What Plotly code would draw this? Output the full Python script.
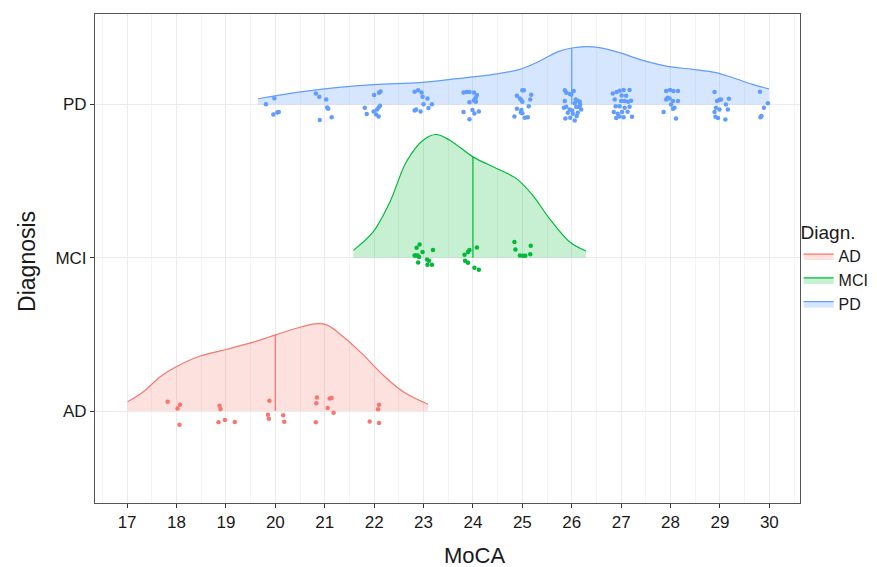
import numpy as np
import plotly.graph_objects as go

# ---------------- data ----------------
groups = ["AD", "MCI", "PD"]
group_pos = [1, 2, 3]
medians = [20, 24, 26]
line_colors = ["#F8766D", "#00BA38", "#619CFF"]
fill_colors = ["rgba(248,118,109,0.22)", "rgba(0,186,56,0.22)", "rgba(97,156,255,0.25)"]

# density ridge outlines (x, scaled height)
ad_dens_x = [17.01, 17.33, 17.67, 18.00, 18.48, 19.02, 19.55, 20.01, 20.43, 20.80, 21.04, 21.37, 21.78, 22.18, 22.59, 23.09]
ad_dens_h = [0.061, 0.126, 0.224, 0.290, 0.359, 0.403, 0.449, 0.497, 0.540, 0.569, 0.562, 0.486, 0.366, 0.235, 0.126, 0.044]
mci_dens_x = [21.58, 21.98, 22.32, 22.65, 22.99, 23.25, 23.53, 24.00, 24.48, 24.88, 25.21, 25.55, 25.96, 26.29]
mci_dens_h = [0.048, 0.168, 0.364, 0.625, 0.767, 0.804, 0.767, 0.658, 0.582, 0.516, 0.407, 0.255, 0.103, 0.044]
pd_dens_x = [19.65, 20.63, 21.98, 22.92, 23.67, 24.41, 24.95, 25.35, 25.75, 26.00, 26.29, 26.56, 26.97, 27.37, 27.91, 28.45, 28.92, 29.26, 29.66, 29.99]
pd_dens_h = [0.037, 0.087, 0.129, 0.142, 0.168, 0.196, 0.229, 0.283, 0.348, 0.368, 0.377, 0.371, 0.338, 0.294, 0.250, 0.229, 0.207, 0.174, 0.131, 0.102]

# jittered observations (MoCA, vertical offset from ridge baseline)
ad_pts_x = [17.82, 18.07, 18.02, 18.06, 18.87, 18.89, 18.85, 18.98, 19.18, 19.88, 19.85, 19.87, 20.16, 20.18,
            20.84, 20.83, 20.82, 21.06, 21.10, 21.14, 21.18, 21.91, 22.10, 22.08, 22.10]
ad_pts_dy = [0.061, 0.041, 0.017, -0.089, 0.035, 0.013, -0.074, -0.059, -0.072, 0.067, -0.024, -0.050, -0.028, -0.070,
             0.089, 0.050, -0.074, 0.020, 0.081, 0.085, -0.011, -0.068, 0.041, 0.011, -0.078]
mci_pts_x = [22.86, 22.92, 22.84, 22.88, 22.91, 22.82, 22.98, 22.89, 23.07, 23.11, 23.08, 23.17, 23.19, 23.83,
             23.90, 23.93, 23.84, 23.90, 24.08, 24.03, 24.12, 24.84, 24.86, 24.95, 25.01, 25.06, 25.17, 25.16]
mci_pts_dy = [0.065, 0.087, 0.015, 0.015, 0.004, 0.015, 0.037, -0.031, -0.011, -0.020, -0.046, -0.046, 0.050, 0.020,
              0.037, 0.050, -0.020, -0.033, 0.067, -0.065, -0.078, 0.102, 0.054, 0.015, 0.013, 0.013, 0.078, 0.022]
pd_pts_x = [19.81, 19.98, 19.96, 20.04, 20.07,
            20.82, 20.89, 21.03, 21.05, 21.07, 20.90, 21.14,
            21.81, 21.85, 22.00, 22.10, 22.13, 21.99, 22.06, 22.09, 22.12, 22.04, 22.09,
            22.82, 22.89, 22.96, 22.98, 23.08, 23.17, 23.00, 22.82, 22.85, 22.94, 23.10,
            23.81, 23.87, 23.93, 24.02, 24.08, 24.06, 23.93, 24.02, 24.04, 24.06, 23.99, 24.12, 24.03, 23.81, 23.93,
            25.00, 25.03, 24.89, 24.95, 24.98, 25.18, 25.16, 25.00, 25.13, 24.89, 24.98, 25.00, 24.84, 25.05, 25.11, 24.97,
            25.86, 25.89, 25.96, 26.04, 25.99, 26.08, 26.12, 26.16, 26.06, 25.86, 25.84, 25.89, 25.96, 26.01, 26.09,
            26.16, 26.19, 25.92, 26.02, 26.10, 25.97, 26.06, 25.87, 26.12, 26.17,
            26.83, 26.91, 26.97, 27.05, 27.17, 27.01, 27.10, 26.87, 27.00, 27.07, 27.14, 27.20, 26.89, 26.97, 27.07,
            27.17, 26.85, 26.93, 27.02, 27.13, 26.97, 27.05, 27.22, 26.90,
            27.91, 27.99, 28.06, 28.15, 27.91, 27.98, 28.05, 28.15, 28.01, 28.08, 28.05, 27.86, 28.11, 27.94,
            28.89, 28.94, 28.99, 29.02, 28.92, 28.99, 29.16, 29.12, 29.18, 28.91, 28.96, 29.11, 28.89,
            29.81, 29.97, 29.89, 29.82, 29.84]
pd_pts_dy = [0.002, 0.041, -0.065, -0.052, -0.050,
             0.072, 0.050, 0.033, -0.020, -0.028, -0.102, -0.083,
             -0.022, -0.063, 0.061, 0.076, 0.085, -0.046, -0.033, -0.020, -0.009, -0.065, -0.078,
             0.083, 0.092, 0.078, 0.050, 0.039, 0.002, 0.002, -0.039, -0.033, -0.046, -0.024,
             0.078, 0.081, 0.081, 0.078, 0.061, 0.046, 0.015, 0.026, 0.033, 0.017, -0.037, -0.046, -0.059, -0.050, -0.096,
             0.092, 0.092, 0.057, 0.039, 0.028, 0.063, 0.033, 0.017, -0.011, -0.028, -0.037, -0.057, -0.078, -0.087, -0.083, -0.052,
             0.092, 0.076, 0.068, 0.087, 0.065, 0.033, 0.024, 0.017, 0.007, 0.022, -0.022, -0.015, -0.033, -0.039, -0.017,
             -0.017, -0.033, -0.054, -0.061, -0.076, -0.087, -0.105, -0.092, -0.054, 0.000,
             0.072, 0.081, 0.089, 0.094, 0.094, 0.059, 0.057, 0.033, 0.022, 0.022, 0.017, 0.024, -0.011, -0.011, -0.022,
             -0.015, -0.050, -0.061, -0.050, -0.048, -0.078, -0.083, -0.081, -0.089,
             0.087, 0.094, 0.087, 0.087, 0.033, 0.039, 0.022, 0.022, 0.000, -0.022, -0.028, -0.050, -0.092, 0.044,
             0.081, 0.022, 0.031, 0.033, -0.022, -0.033, -0.033, 0.000, 0.037, -0.081, -0.089, -0.098, -0.050,
             0.083, 0.007, -0.022, -0.083, -0.076]

x_tick_vals = list(range(17, 31))
x_title = "MoCA"
y_title = "Diagnosis"
legend_title = "Diagn."

dens_x = [ad_dens_x, mci_dens_x, pd_dens_x]
dens_h = [ad_dens_h, mci_dens_h, pd_dens_h]
pts_x = [ad_pts_x, mci_pts_x, pd_pts_x]
pts_dy = [ad_pts_dy, mci_pts_dy, pd_pts_dy]

FONT = "Liberation Sans, Arial, sans-serif"

fig = go.Figure()
for i, g in enumerate(groups):
    base = group_pos[i]
    xs = np.array(dens_x[i])
    hs = np.array(dens_h[i])
    # baseline
    fig.add_trace(go.Scatter(x=xs, y=np.full(len(xs), base), mode="lines",
                             line=dict(width=0, color=line_colors[i]), hoverinfo="skip",
                             showlegend=False, legendgroup=g))
    # ridge
    fig.add_trace(go.Scatter(x=xs, y=base + hs, mode="lines", fill="tonexty",
                             fillcolor=fill_colors[i],
                             line=dict(color=line_colors[i], width=1.2, shape="spline", smoothing=1.0),
                             name=g, legendgroup=g, showlegend=True))
    # median line
    m = medians[i]
    hm = float(np.interp(m, xs, hs))
    fig.add_trace(go.Scatter(x=[m, m], y=[base, base + hm], mode="lines",
                             line=dict(color=line_colors[i], width=1.2),
                             showlegend=False, legendgroup=g, hoverinfo="skip"))
    # points
    fig.add_trace(go.Scatter(x=pts_x[i], y=base + np.array(pts_dy[i]), mode="markers",
                             marker=dict(color=line_colors[i], size=4.5, line=dict(width=0)),
                             showlegend=False, legendgroup=g))

# page body adds an 8px offset; size the figure so the plot lands where the reference has it
fig.update_layout(
    width=869, height=559,
    paper_bgcolor="white", plot_bgcolor="white",
    margin=dict(l=87, r=77, t=6, b=64, autoexpand=False),
    font=dict(family=FONT, size=17, color="#1a1a1a"),
    legend=dict(title=dict(text=legend_title, font=dict(size=19)), x=0.998, xanchor="left",
                y=0.59, yanchor="top", font=dict(size=16), tracegroupgap=0,
                itemwidth=30, bgcolor="rgba(0,0,0,0)"),
    annotations=[
        dict(text=x_title, xref="paper", yref="paper", x=0.5376, y=-0.108,
             xanchor="center", yanchor="middle", showarrow=False, font=dict(size=22)),
        dict(text=y_title, xref="paper", yref="paper", x=-0.0965, y=0.495, textangle=-90,
             xanchor="center", yanchor="middle", showarrow=False, font=dict(size=23)),
    ],
)
fig.update_xaxes(
    range=[16.35, 30.62], tickvals=x_tick_vals, ticktext=[str(v) for v in x_tick_vals],
    showgrid=True, gridcolor="#EBEBEB", gridwidth=1,
    minor=dict(tickvals=[v + 0.5 for v in range(16, 31)], showgrid=True, gridcolor="#F4F4F4", gridwidth=0.6),
    ticks="outside", ticklen=4, tickcolor="#333333",
    showline=True, linecolor="#555555", linewidth=1, mirror=True, zeroline=False,
    tickfont=dict(size=17, color="#1a1a1a"), automargin=False,
)
fig.update_yaxes(
    range=[0.40, 3.59], tickvals=group_pos, ticktext=groups,
    showgrid=True, gridcolor="#EBEBEB", gridwidth=1,
    ticks="outside", ticklen=4, tickcolor="#333333",
    showline=True, linecolor="#555555", linewidth=1, mirror=True, zeroline=False,
    tickfont=dict(size=17, color="#1a1a1a"), automargin=False,
)

fig.write_html("out.html")
